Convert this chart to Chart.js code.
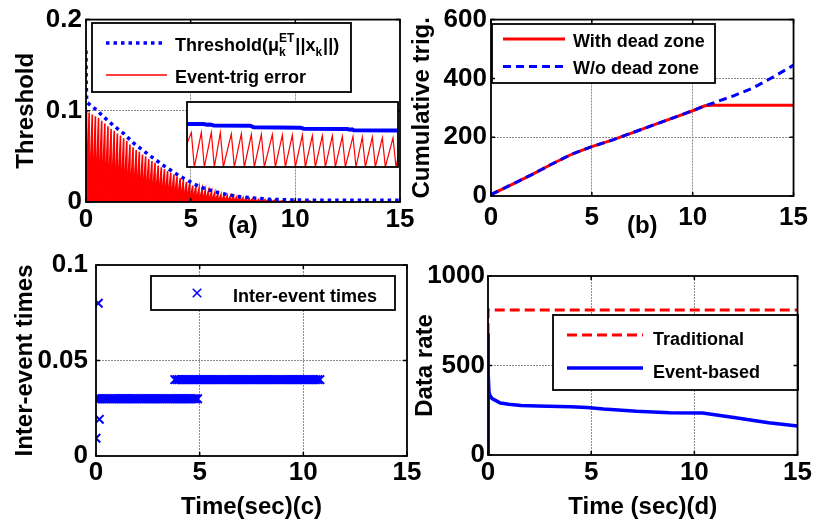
<!DOCTYPE html>
<html>
<head>
<meta charset="utf-8">
<script src="https://cdn.jsdelivr.net/npm/chart.js@4.4.0/dist/chart.umd.min.js"></script>
<style>
  html, body { margin: 0; padding: 0; background: #fff; }
  #wrap { position: relative; width: 814px; height: 524px; overflow: hidden; }
  #wrap canvas { position: absolute; left: 0; top: 0; }
</style>
</head>
<body>
<div id="wrap">
  <canvas id="pa" width="814" height="524"></canvas>
  <canvas id="pb" width="814" height="524"></canvas>
  <canvas id="pc" width="814" height="524"></canvas>
  <canvas id="pd" width="814" height="524"></canvas>
  <canvas id="pinset" width="814" height="524"></canvas>
</div>
<script>
// ---- shared axis ticks ----
const timeTicks = [0, 5, 10, 15];
const aYTicks = [0, 0.1, 0.2];
const bYTicks = [0, 200, 400, 600];
const cYTicks = [0, 0.05, 0.1];
const dYTicks = [0, 500, 1000];

// ---- (a) threshold and event-triggering error ----
const thrTime  = [0, 0.01, 0.03, 0.06, 0.5, 0.86, 1.3, 1.8, 2.3, 3.1, 3.7, 4.5, 5.45, 6.4, 7.36, 8.8, 10, 12, 15];
const thrValue = [0.166, 0.13, 0.113, 0.109, 0.101, 0.093, 0.084, 0.075, 0.064, 0.050, 0.040, 0.028, 0.0164, 0.0096, 0.0057, 0.0029, 0.0021, 0.0019, 0.0018];
// error peaks reached just before each trigger (sawtooth resets to 0)
const errTime = [0.03, 0.15, 0.3, 0.45, 0.6, 0.75, 0.9, 1.05, 1.2, 1.35, 1.5, 1.65, 1.8, 1.95,
  2.1, 2.25, 2.4, 2.55, 2.7, 2.85, 3.0, 3.15, 3.3, 3.45, 3.6, 3.75, 3.9, 4.05, 4.2, 4.35, 4.5,
  4.65, 4.8, 4.95, 5.1, 5.25, 5.4, 5.55, 5.7, 5.85, 6.0, 6.15, 6.3, 6.45, 6.6, 6.75, 6.9, 7.05,
  7.2, 7.35, 7.5, 7.65, 7.8, 7.95, 8.1, 8.25, 8.4, 8.55, 8.7, 8.85, 9.0, 9.5, 10, 10.7];
const errPeak = [0.100, 0.098, 0.096, 0.094, 0.092, 0.089, 0.086, 0.083, 0.080, 0.078, 0.075, 0.073, 0.070, 0.067,
  0.063, 0.060, 0.057, 0.055, 0.052, 0.050, 0.047, 0.045, 0.043, 0.040, 0.038, 0.036, 0.034, 0.032, 0.030, 0.028, 0.026,
  0.024, 0.022, 0.020, 0.018, 0.017, 0.015, 0.014, 0.013, 0.012, 0.011, 0.010, 0.009, 0.008, 0.0075, 0.007, 0.0065, 0.006,
  0.0055, 0.005, 0.0045, 0.004, 0.0037, 0.0034, 0.003, 0.0028, 0.0026, 0.0024, 0.0022, 0.002, 0.0018, 0.0015, 0.0012, 0.001];

// ---- (a) inset (zoomed window, arbitrary units) ----
const insetThrX = [0, 5, 6, 7, 8, 19, 20, 34, 35, 48, 49, 49.5, 50, 63.3];
const insetThrV = [0.66, 0.66, 0.65, 0.655, 0.64, 0.635, 0.61, 0.605, 0.59, 0.585, 0.575, 0.58, 0.565, 0.56];
const insetErrX = [0, 1.3, 2.2, 4.3, 5.2, 7.3, 8.2, 10.0, 10.9, 13.3, 14.2, 16.3, 17.2, 19.3, 20.2, 22.3, 23.2,
  25.6, 26.5, 28.6, 29.5, 31.6, 32.5, 34.6, 35.5, 37.6, 38.5, 40.6, 41.5, 43.6, 44.5, 46.6, 47.5,
  49.8, 50.7, 52.6, 53.5, 55.6, 56.5, 58.6, 59.5, 61.8, 62.7, 63.3];
const insetErrV = [0.36, 0.53, 0, 0.53, 0, 0.53, 0, 0.53, 0, 0.51, 0, 0.51, 0, 0.50, 0, 0.50, 0,
  0.50, 0, 0.49, 0, 0.49, 0, 0.49, 0, 0.48, 0, 0.48, 0, 0.48, 0, 0.47, 0,
  0.47, 0, 0.46, 0, 0.46, 0, 0.45, 0, 0.45, 0, 0.15];

// ---- (b) cumulative triggers ----
const cumTime   = [0, 1, 2, 3, 4, 4.5, 5, 6, 7, 8, 9, 10, 10.6, 11, 12, 13, 14, 15];
const withDZ    = [5, 38, 72, 108, 142, 155, 168, 190, 215, 240, 265, 290, 307, 309, 309, 309, 309, 309];
const withoutDZ = [5, 38, 72, 108, 142, 155, 168, 190, 215, 240, 265, 290, 307, 316, 340, 368, 405, 445];

// ---- (c) inter-event times ----
const isoTimes = [0, 0.16, 0.11];
const isoGaps  = [0.0093, 0.0192, 0.080];
const gap03Times = [0, 0.1, 0.2, 0.3, 0.4, 0.5, 0.6, 0.7, 0.8, 0.9, 1, 1.1, 1.2, 1.3, 1.4, 1.5, 1.6, 1.7, 1.8, 1.9,
  2, 2.1, 2.2, 2.3, 2.4, 2.5, 2.6, 2.7, 2.8, 2.9, 3, 3.1, 3.2, 3.3, 3.4, 3.5, 3.6, 3.7, 3.8, 3.9,
  4, 4.1, 4.2, 4.3, 4.4, 4.5, 4.6, 4.7, 4.8, 4.9];
const gap04Times = [3.8, 3.9, 4, 4.1, 4.2, 4.3, 4.4, 4.5, 4.6, 4.7, 4.8, 4.9, 5, 5.1, 5.2, 5.3, 5.4, 5.5, 5.6, 5.7,
  5.8, 5.9, 6, 6.1, 6.2, 6.3, 6.4, 6.5, 6.6, 6.7, 6.8, 6.9, 7, 7.1, 7.2, 7.3, 7.4, 7.5, 7.6, 7.7,
  7.8, 7.9, 8, 8.1, 8.2, 8.3, 8.4, 8.5, 8.6, 8.7, 8.8, 8.9, 9, 9.1, 9.2, 9.3, 9.4, 9.5, 9.6, 9.7,
  9.8, 9.9, 10, 10.1, 10.2, 10.3, 10.4, 10.5, 10.6, 10.7, 10.8];
const gap03 = 0.03;
const gap04 = 0.04;

// ---- (d) data rate ----
const rateTime  = [0, 0, 0.02, 0.05, 0.1, 0.2, 0.6, 1, 1.6, 2.4, 4, 4.8, 5.6, 7.2, 8.8, 10.4, 12, 13.6, 15];
const eventRate = [0, 680, 450, 350, 330, 315, 290, 283, 276, 274, 270, 266, 257, 244, 236, 234, 208, 180, 162];
const tradTime  = [0, 0, 15];
const tradRate  = [680, 810, 810];

const BLUE = '#0000ff';
const RED = '#ff0000';
const FONT = '"Liberation Sans", Arial, Helvetica, sans-serif';

Chart.defaults.font.family = FONT;
Chart.defaults.color = '#000';

const pts = (xs, ys) => xs.map((x, i) => ({ x: x, y: ys[i] }));
const level = (xs, v) => xs.map(x => ({ x: x, y: v }));

function sawtooth(times, peaks) {
  const out = [];
  let prev = 0;
  times.forEach((t, i) => {
    out.push({ x: prev, y: 0 });
    out.push({ x: t, y: peaks[i] });
    prev = t;
  });
  out.push({ x: prev, y: 0 });
  return out;
}

// inner ticks + box frame
const frame = {
  id: 'frame',
  afterDraw(chart, args, opts) {
    const { ctx, chartArea: a, scales } = chart;
    ctx.save();
    ctx.strokeStyle = '#000';
    const len = opts.tickLen || 0;
    if (len) {
      ctx.lineWidth = 1.5;
      ctx.beginPath();
      scales.x.ticks.forEach(t => {
        const p = scales.x.getPixelForValue(t.value);
        ctx.moveTo(p, a.bottom); ctx.lineTo(p, a.bottom - len);
        ctx.moveTo(p, a.top); ctx.lineTo(p, a.top + len);
      });
      scales.y.ticks.forEach(t => {
        const p = scales.y.getPixelForValue(t.value);
        ctx.moveTo(a.left, p); ctx.lineTo(a.left + len, p);
        ctx.moveTo(a.right, p); ctx.lineTo(a.right - len, p);
      });
      ctx.stroke();
    }
    ctx.lineWidth = 1.8;
    ctx.strokeRect(a.left, a.top, a.right - a.left, a.bottom - a.top);
    ctx.restore();
  },
  beforeDatasetsDraw(chart, args, opts) {
    if (!opts.fill) return;
    const { ctx, chartArea: a } = chart;
    ctx.save();
    ctx.fillStyle = opts.fill;
    ctx.fillRect(a.left, a.top, a.right - a.left, a.bottom - a.top);
    ctx.restore();
  }
};

// legend box drawn inside the axes, MATLAB style
const boxLegend = {
  id: 'boxLegend',
  afterDatasetsDraw(chart, args, opts) {
    if (!opts.box) return;
    const ctx = chart.ctx;
    const [x1, y1, x2, y2] = opts.box;
    ctx.save();
    ctx.fillStyle = '#fff';
    ctx.fillRect(x1, y1, x2 - x1, y2 - y1);
    ctx.lineWidth = 1.8;
    ctx.strokeStyle = '#000';
    ctx.strokeRect(x1, y1, x2 - x1, y2 - y1);
    opts.items.forEach(it => {
      if (it.line) {
        const l = it.line;
        ctx.beginPath();
        ctx.strokeStyle = l.color;
        ctx.lineWidth = l.width;
        ctx.setLineDash(l.dash || []);
        ctx.moveTo(l.x1, l.y);
        ctx.lineTo(l.x2, l.y);
        ctx.stroke();
        ctx.setLineDash([]);
      }
      if (it.marker) {
        const m = it.marker, r = m.r * Math.SQRT1_2;
        ctx.beginPath();
        ctx.strokeStyle = m.color;
        ctx.lineWidth = 1.5;
        ctx.moveTo(m.x - r, m.y - r); ctx.lineTo(m.x + r, m.y + r);
        ctx.moveTo(m.x - r, m.y + r); ctx.lineTo(m.x + r, m.y - r);
        ctx.stroke();
      }
      let x = it.tx;
      ctx.fillStyle = '#000';
      ctx.textBaseline = 'alphabetic';
      ctx.textAlign = 'left';
      it.parts.forEach(p => {
        ctx.font = 'bold ' + p.size + 'px ' + FONT;
        if (p.text) {
          ctx.fillText(p.text, x, it.ty);
          x += ctx.measureText(p.text).width;
        } else {
          let w = 0;
          if (p.sub) { ctx.fillText(p.sub, x, it.ty + 5); w = Math.max(w, ctx.measureText(p.sub).width); }
          if (p.sup) { ctx.fillText(p.sup, x, it.ty - 9); w = Math.max(w, ctx.measureText(p.sup).width); }
          x += w + 1;
        }
      });
    });
    ctx.restore();
  }
};

Chart.register(frame, boxLegend);

function axes(o) {
  const gridColor = (ticks) => (ctx) => {
    const v = ctx.tick ? ctx.tick.value : null;
    return (v === ticks[0] || v === ticks[ticks.length - 1]) ? 'rgba(0,0,0,0)' : '#8c8c8c';
  };
  return {
    x: {
      type: 'linear', min: 0, max: 15,
      afterBuildTicks: s => { s.ticks = timeTicks.map(v => ({ value: v })); },
      afterFit: s => { s.height = o.xh; },
      ticks: { font: { size: 26, weight: 'bold' }, color: '#000', padding: o.xp, maxRotation: 0, autoSkip: false,
        callback: v => String(v) },
      grid: { drawTicks: false, color: gridColor(timeTicks), lineWidth: 1 },
      border: { display: false, dash: [2, 1] },
      title: { display: true, text: o.xt, font: { size: 24, weight: 'bold' }, color: '#000', padding: 0 }
    },
    y: {
      type: 'linear', min: o.yTicks[0], max: o.yTicks[o.yTicks.length - 1],
      afterBuildTicks: s => { s.ticks = o.yTicks.map(v => ({ value: v })); },
      afterFit: s => { s.width = o.yw; },
      ticks: { font: { size: 26, weight: 'bold' }, color: '#000', padding: o.yp, autoSkip: false,
        callback: v => String(v) },
      grid: { drawTicks: false, color: gridColor(o.yTicks), lineWidth: 1 },
      border: { display: false, dash: [2, 1] },
      title: { display: true, text: o.yt, font: { size: 24, weight: 'bold' }, color: '#000', padding: 0 }
    }
  };
}

function base(padding, scales, legend) {
  return {
    responsive: false,
    animation: false,
    layout: { padding: padding },
    scales: scales,
    plugins: {
      legend: { display: false },
      tooltip: { enabled: false },
      frame: { tickLen: 4 },
      boxLegend: legend
    },
    elements: { point: { radius: 0 }, line: { tension: 0 } }
  };
}

// (a)
new Chart(document.getElementById('pa'), {
  type: 'line',
  data: {
    datasets: [{
      label: 'Threshold',
      data: pts(thrTime, thrValue),
      borderColor: BLUE, borderWidth: 3.5, borderDash: [3.5, 4], fill: false, order: 0
    }, {
      label: 'Event-trig error',
      data: sawtooth(errTime, errPeak),
      borderColor: RED, borderWidth: 1.6, backgroundColor: RED, fill: 'origin', order: 1
    }]
  },
  options: base({ left: 11.6, top: 15, right: 414, bottom: 283.6 },
    axes({ xt: '(a)', yt: 'Threshold', yTicks: aYTicks, xh: 38.4, yw: 74.4, xp: 2, yp: 4 }),
    {
      box: [92, 23, 351, 92],
      items: [
        { line: { x1: 106, x2: 166, y: 43, color: BLUE, width: 3.5, dash: [3.5, 4] }, tx: 175, ty: 51,
          parts: [{ text: 'Threshold(\u03bc', size: 18 }, { sub: 'k', sup: 'ET', size: 12 },
                  { text: '||x', size: 18 }, { sub: 'k', size: 12 }, { text: '||)', size: 18 }] },
        { line: { x1: 106, x2: 167, y: 75, color: RED, width: 1.4 }, tx: 175, ty: 83,
          parts: [{ text: 'Event-trig error', size: 18 }] }
      ]
    })
});

// (a) inset
new Chart(document.getElementById('pinset'), {
  type: 'line',
  data: {
    datasets: [{
      data: pts(insetThrX, insetThrV), borderColor: BLUE, borderWidth: 4, fill: false, order: 0
    }, {
      data: pts(insetErrX, insetErrV), borderColor: RED, borderWidth: 1.2, fill: false, order: 1
    }]
  },
  options: {
    responsive: false,
    animation: false,
    layout: { padding: { left: 187, top: 102, right: 416, bottom: 357 } },
    scales: {
      x: { type: 'linear', min: 0, max: 63.3, display: false },
      y: { type: 'linear', min: 0, max: 1, display: false }
    },
    plugins: { legend: { display: false }, tooltip: { enabled: false }, frame: { tickLen: 0, fill: '#fff' } },
    elements: { point: { radius: 0 }, line: { tension: 0 } }
  }
});

// (b)
new Chart(document.getElementById('pb'), {
  type: 'line',
  data: {
    datasets: [{
      label: 'With dead zone', data: pts(cumTime, withDZ),
      borderColor: RED, borderWidth: 3, fill: false, order: 1
    }, {
      label: 'W/o dead zone', data: pts(cumTime, withoutDZ),
      borderColor: BLUE, borderWidth: 3, borderDash: [8, 5], fill: false, order: 0
    }]
  },
  options: base({ left: 407.6, top: 14, right: 16, bottom: 283.6 },
    axes({ xt: '(b)', yt: 'Cumulative trig.', yTicks: bYTicks, xh: 44.4, yw: 83.4, xp: 6, yp: 4 }),
    {
      box: [492, 24, 715, 83],
      items: [
        { line: { x1: 503, x2: 565, y: 39, color: RED, width: 3 }, tx: 573, ty: 46.5,
          parts: [{ text: 'With dead zone', size: 18 }] },
        { line: { x1: 503, x2: 565, y: 66.5, color: BLUE, width: 3, dash: [8, 5] }, tx: 573, ty: 73.5,
          parts: [{ text: 'W/o dead zone', size: 18 }] }
      ]
    })
});

// (c)
new Chart(document.getElementById('pc'), {
  type: 'scatter',
  data: {
    datasets: [{
      label: 'Inter-event times',
      data: pts(isoTimes, isoGaps).concat(level(gap03Times, gap03), level(gap04Times, gap04)),
      pointStyle: 'crossRot', pointRadius: 6, borderColor: BLUE, borderWidth: 2, showLine: false
    }]
  },
  options: (() => {
    const o = base({ left: 11.1, top: 265, right: 407, bottom: 2.6 },
      axes({ xt: 'Time(sec)(c)', yt: 'Inter-event times', yTicks: cYTicks, xh: 65.4, yw: 84.9, xp: 1, yp: 8 }),
      {
        box: [151, 276, 395, 310],
        items: [
          { marker: { x: 197, y: 293, r: 6, color: BLUE }, tx: 233, ty: 301.5,
            parts: [{ text: 'Inter-event times', size: 18 }] }
        ]
      });
    o.elements.point.radius = 6;
    return o;
  })()
});

// (d)
new Chart(document.getElementById('pd'), {
  type: 'line',
  data: {
    datasets: [{
      label: 'Traditional', data: pts(tradTime, tradRate),
      borderColor: RED, borderWidth: 3, borderDash: [10, 5], fill: false, order: 1
    }, {
      label: 'Event-based', data: pts(rateTime, eventRate),
      borderColor: BLUE, borderWidth: 3.5, fill: false, order: 0
    }]
  },
  options: base({ left: 410.6, top: 276, right: 14, bottom: 2.6 },
    axes({ xt: 'Time (sec)(d)', yt: 'Data rate', yTicks: dYTicks, xh: 66.4, yw: 77.4, xp: 2, yp: 3 }),
    {
      box: [553, 315, 798, 390],
      items: [
        { line: { x1: 567, x2: 643, y: 335, color: RED, width: 3, dash: [10, 5] }, tx: 653, ty: 345,
          parts: [{ text: 'Traditional', size: 18 }] },
        { line: { x1: 567, x2: 643, y: 368, color: BLUE, width: 3.5 }, tx: 653, ty: 378,
          parts: [{ text: 'Event-based', size: 18 }] }
      ]
    })
});
</script>
</body>
</html>
